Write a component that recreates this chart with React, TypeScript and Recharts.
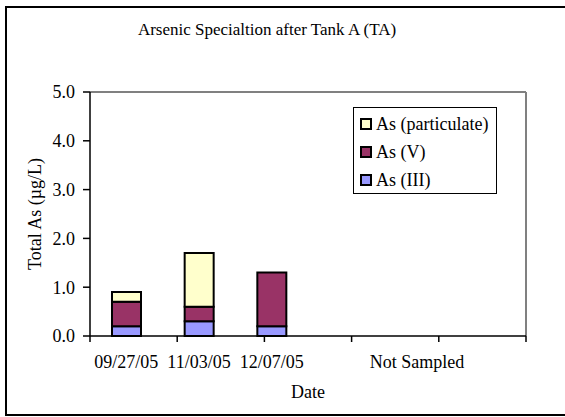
import { BarChart, Bar, XAxis, YAxis, Legend } from 'recharts';

const dates = ['09/27/05', '11/03/05', '12/07/05', '', 'Not Sampled', ''];
const asIII = [0.2, 0.3, 0.2, null, null, null];
const asV = [0.5, 0.3, 1.1, null, null, null];
const asParticulate = [0.2, 1.1, null, null, null, null];
const yTicks = [0, 1, 2, 3, 4, 5];
const slotEdges = [0, 1, 2, 3, 4, 5, 6];

const data = dates.map((date, i) => ({
  date,
  asIII: asIII[i],
  asV: asV[i],
  asParticulate: asParticulate[i],
}));

const FONT = "'Liberation Serif', 'Times New Roman', serif";
const textStyle = { fill: '#000', fontSize: 18, fontFamily: FONT };

const LegendBox = ({ payload }: any) => (
  <div
    style={{
      border: '1px solid #000',
      background: '#fff',
      width: 144,
      height: 87,
      boxSizing: 'border-box',
      padding: '2px 0 0 6px',
      fontFamily: FONT,
      fontSize: 18,
      color: '#000',
    }}
  >
    {[...(payload ?? [])].reverse().map((item: any) => (
      <div key={item.value} style={{ display: 'flex', alignItems: 'center', height: 28 }}>
        <span
          style={{
            display: 'inline-block',
            width: 8,
            height: 8,
            border: '2px solid #000',
            background: item.color,
            marginRight: 4,
          }}
        />
        <span>{item.value}</span>
      </div>
    ))}
  </div>
);

const YLabel = ({ viewBox }: any) => {
  const cx = viewBox.x + 15;
  const cy = viewBox.y + viewBox.height / 2;
  return (
    <text
      x={cx}
      y={cy}
      transform={`rotate(-90, ${cx}, ${cy})`}
      textAnchor="middle"
      dominantBaseline="central"
      {...textStyle}
    >
      Total As (µg/L)
    </text>
  );
};

// edge axis only shows tick marks, no text
const NoLabel = () => <g />;

export default function App() {
  return (
    <div
      style={{
        position: 'absolute',
        left: 0,
        top: 0,
        width: 565,
        height: 417,
        overflow: 'hidden',
        background: '#fff',
        fontFamily: FONT,
      }}
    >
      {/* chart frame */}
      <div
        style={{
          position: 'absolute',
          left: 5,
          top: 6,
          width: 640,
          height: 410,
          border: '2px solid #000',
          boxSizing: 'border-box',
        }}
      />
      <div
        style={{
          position: 'absolute',
          left: 0,
          top: 20,
          width: 534,
          textAlign: 'center',
          fontSize: 17,
          color: '#000',
        }}
      >
        Arsenic Specialtion after Tank A (TA)
      </div>
      <BarChart
        width={565}
        height={417}
        data={data}
        margin={{ top: 91, right: 38, bottom: 40, left: 20 }}
        style={{ position: 'absolute', left: 0, top: 0 }}
      >
        <XAxis
          xAxisId="top"
          orientation="top"
          type="number"
          domain={[0, 6]}
          height={1}
          tick={false}
          tickLine={false}
          axisLine={{ stroke: '#808080', strokeWidth: 2 }}
        />
        <YAxis
          yAxisId="right"
          orientation="right"
          domain={[0, 5]}
          width={1}
          tick={false}
          tickLine={false}
          axisLine={{ stroke: '#808080', strokeWidth: 2 }}
        />
        {/* tick marks on the slot edges, right under the plot */}
        <XAxis
          xAxisId="a-edges"
          type="number"
          domain={[0, 6]}
          ticks={slotEdges}
          interval={0}
          height={1}
          tick={<NoLabel />}
          tickSize={6}
          tickLine={{ stroke: '#000', strokeWidth: 1.5 }}
          axisLine={{ stroke: '#000', strokeWidth: 1.5 }}
        />
        <XAxis
          xAxisId="b-dates"
          dataKey="date"
          height={40}
          axisLine={false}
          tickLine={false}
          tickSize={0}
          tickMargin={18}
          interval={0}
          tick={textStyle}
          label={{ value: 'Date', position: 'bottom', offset: 8, ...textStyle }}
        />
        <YAxis
          domain={[0, 5]}
          ticks={yTicks}
          width={70}
          tickFormatter={(v: number) => v.toFixed(1)}
          tick={textStyle}
          tickSize={7}
          tickMargin={8}
          tickLine={{ stroke: '#000', strokeWidth: 1.5 }}
          axisLine={{ stroke: '#000', strokeWidth: 1.5 }}
          label={<YLabel />}
        />
        <Legend
          layout="horizontal"
          verticalAlign="middle"
          align="center"
          content={<LegendBox />}
          wrapperStyle={{ left: 353, top: 107, width: 144 }}
        />
        <Bar xAxisId="b-dates" dataKey="asIII" name="As (III)" stackId="as" fill="#9999FF" stroke="#000" strokeWidth={2} barSize={29} isAnimationActive={false} />
        <Bar xAxisId="b-dates" dataKey="asV" name="As (V)" stackId="as" fill="#993366" stroke="#000" strokeWidth={2} barSize={29} isAnimationActive={false} />
        <Bar xAxisId="b-dates" dataKey="asParticulate" name="As (particulate)" stackId="as" fill="#FFFFCC" stroke="#000" strokeWidth={2} barSize={29} isAnimationActive={false} />
      </BarChart>
    </div>
  );
}
